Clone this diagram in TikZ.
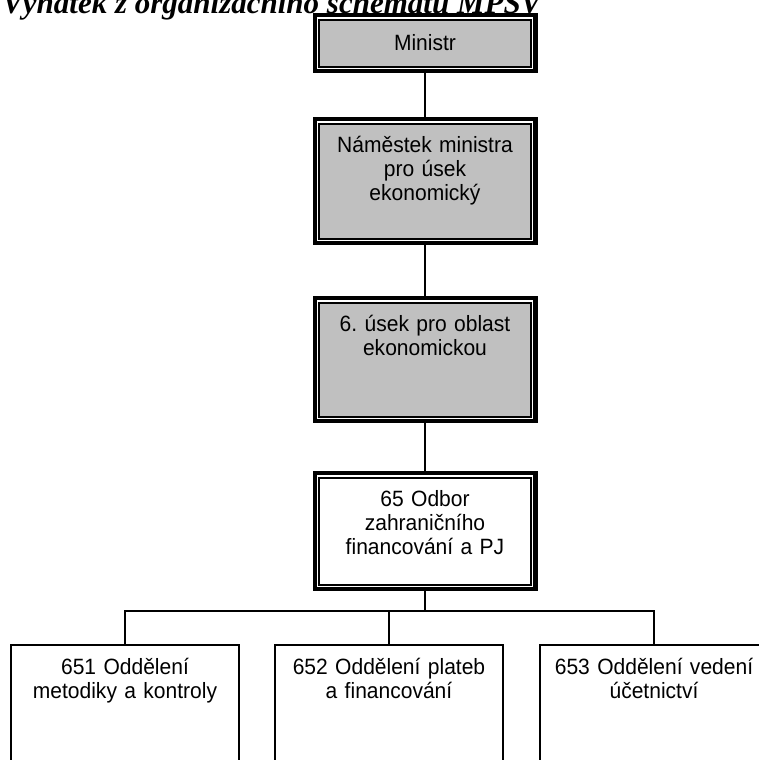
\documentclass[tikz,border=0pt]{standalone}
\usepackage{fontspec}
\setmainfont{Liberation Sans}
\newfontfamily\boxfont[FakeStretch=0.95]{Liberation Sans}
\newfontfamily\titlefont{Liberation Serif}
\frenchspacing
\definecolor{boxgray}{RGB}{192,192,192}
\tikzset{
  headbox/.style={draw=black,line width=1.5pt,
    preaction={draw=black,line width=9.75pt},
    preaction={draw=white,line width=3.3pt},
    outer sep=4.875pt,inner sep=0pt,minimum width=159pt,
    text width=150pt,align=center,font=\boxfont\fontsize{16.6}{18}\selectfont},
  deptbox/.style={draw=black,line width=.9pt,fill=white,inner sep=0pt,outer sep=0pt,
    minimum width=171pt,text width=165pt,align=center,
    text height=21.75pt,text depth=90pt,font=\boxfont\fontsize{16.6}{18.5}\selectfont},
  link/.style={line width=1.1pt},
  buslink/.style={line width=.8pt}
}
\begin{document}
\begin{tikzpicture}[x=.75pt,y=-.75pt]
\useasboundingbox (0,0) rectangle (758,760);
% title, cut by the top edge
\node[anchor=base west,inner sep=0pt,font=\titlefont\bfseries\itshape\fontsize{23.25}{28}\selectfont] (title) at (2,13) {Výňatek z organizačního schématu MPSV};
% upper chain
\node[headbox,fill=boxgray,anchor=north,minimum height=35.25pt] (ministr) at (425,13) {Ministr};
\node[headbox,fill=boxgray,anchor=north,text height=22pt,text depth=64.25pt] (namestek) at (425,117) {Náměstek ministra\\pro úsek\\ekonomický};
\node[headbox,fill=boxgray,anchor=north,text height=22pt,text depth=63.5pt] (usek) at (425,296) {6. úsek pro oblast\\ekonomickou};
\node[headbox,fill=white,anchor=north,text height=22pt,text depth=58.25pt] (odbor) at (425,471) {65 Odbor\\zahraničního\\financování a PJ};
\draw[link] (ministr) -- (namestek);
\draw[link] (namestek) -- (usek);
\draw[link] (usek) -- (odbor);
% departments
\node[deptbox,anchor=north] (o651) at (125,645) {651 Oddělení\\metodiky a kontroly};
\node[deptbox,anchor=north] (o652) at (389,645) {652 Oddělení plateb\\a financování};
\node[deptbox,anchor=north] (o653) at (654,645) {653 Oddělení vedení\\účetnictví};
\coordinate (bus) at (425,611);
\draw[buslink] (odbor) -- (odbor.south |- bus);
\draw[buslink] (o651.north) -- (o651.north |- bus) -- (o653.north |- bus) -- (o653.north);
\draw[buslink] (o652.north) -- (o652.north |- bus);
\end{tikzpicture}
\end{document}
